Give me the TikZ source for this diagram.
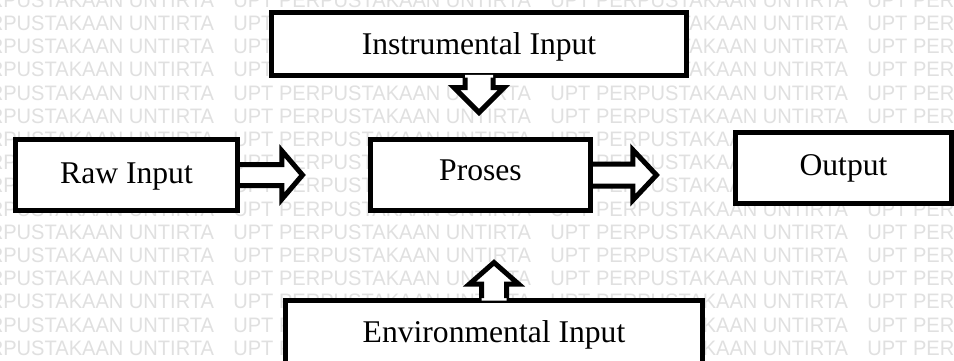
\documentclass[tikz,border=0pt]{standalone}
\usepackage{fontspec}
\setmainfont{Liberation Serif}
\newfontfamily\wmfont{Liberation Sans}
\usetikzlibrary{calc}
% #1 start point, #2 rotation, #3 shaft length, #4 head length, #5 shaft half width, #6 head half width, #7 fill start
\newcommand{\blkarrow}[7]{%
  \begin{scope}[shift={(#1)}, rotate=#2]
    \fill[white] (#7,-#5) -- (#3,-#5) -- (#3,-#6) -- (#3+#4,0) -- (#3,#6) -- (#3,#5) -- (#7,#5) -- cycle;
    \draw[blkline] (0,-#5) -- (#3,-#5) -- (#3,-#6) -- (#3+#4,0) -- (#3,#6) -- (#3,#5) -- (0,#5);
  \end{scope}}
\begin{document}
\begin{tikzpicture}[x=0.02cm,y=-0.02cm,
  box/.style={draw=black, line width=0.1cm, fill=white, inner sep=0pt, line join=miter,
    text height=0.5cm, text depth=0.18cm, font=\fontsize{18}{21.6}\selectfont},
  blkline/.style={draw=black, line width=0.1cm, line join=miter},
  wm/.style={inner sep=0pt, anchor=west, text=black!12, font=\wmfont\fontsize{11.9}{12}\selectfont}
]
\useasboundingbox (0,0) rectangle (954,360);
\clip (0,0) rectangle (954,360);
\fill[white] (0,0) rectangle (954,360);
% watermark
\foreach \k in {0,...,15} {
  \foreach \c [count=\j] in {-84,233,550,867} {
    \node[wm] (wm-\k-\j) at (\c, 348-23.2*\k) {\scalebox{0.96}[1]{UPT PERPUSTAKAAN UNTIRTA}};
  }
}
% boxes
\node[box, minimum width=8.32cm, minimum height=1.25cm, text height=0.59cm] (instr) at (479,43.75) {Instrumental Input};
\node[box, minimum width=4.44cm, minimum height=1.42cm] (raw) at (126.5,175) {Raw Input};
\node[box, minimum width=4.40cm, minimum height=1.42cm, text height=0.38cm] (proses) at (480.5,175) {Proses};
\node[box, minimum width=4.32cm, minimum height=1.41cm] (output) at (843.5,167.75) {Output};
\node[box, minimum width=8.34cm, minimum height=1.34cm] (env) at (494,334) {Environmental Input};
% block arrows
\blkarrow{raw.east}{0}{42}{20.5}{10.5}{24}{2.5}
\blkarrow{proses.east}{0}{40}{23.5}{11}{25}{2.5}
\blkarrow{instr.south}{-90}{10}{25}{14}{25}{-2.6}
\blkarrow{env.north}{90}{14}{21.5}{12.5}{24.5}{-2.6}
\end{tikzpicture}
\end{document}
